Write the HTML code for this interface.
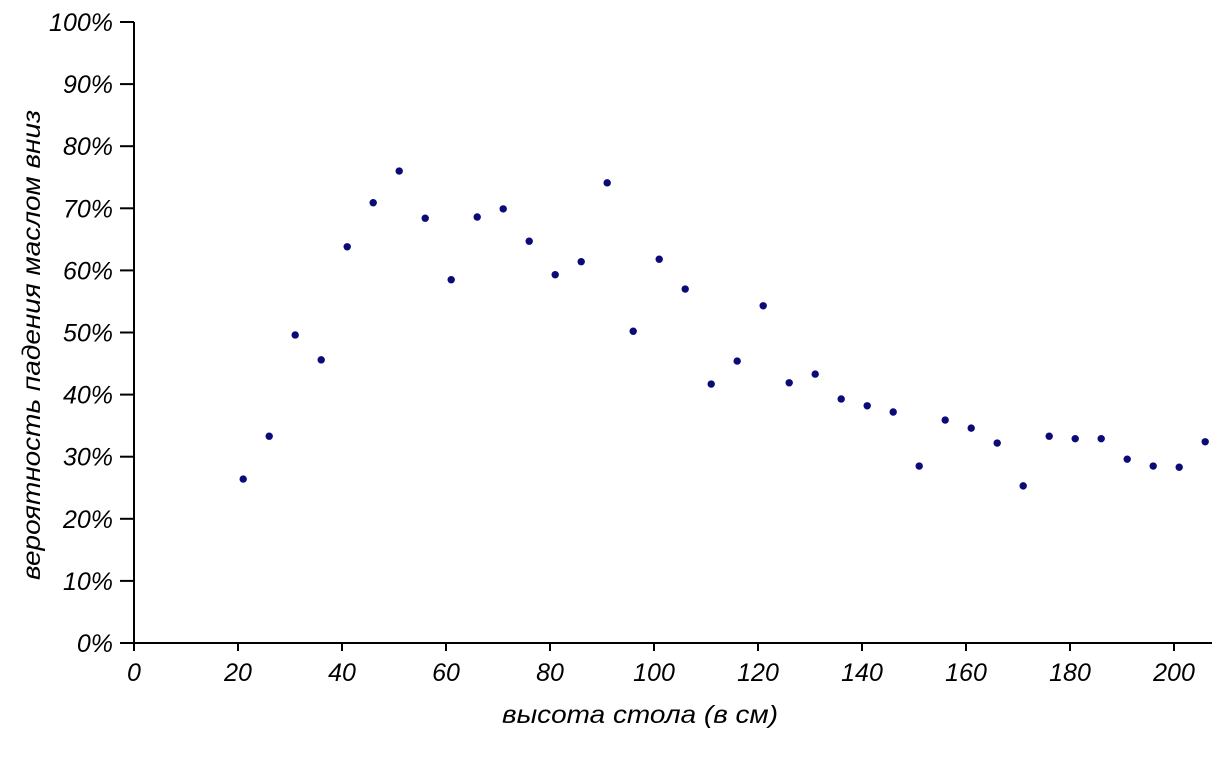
<!DOCTYPE html>
<html><head><meta charset="utf-8"><style>
body{margin:0;background:#fff}
text{font-family:"Liberation Sans",sans-serif;font-style:italic;font-size:25px;fill:#000}
</style></head><body>
<svg id="chart" width="1229" height="760" xmlns="http://www.w3.org/2000/svg"></svg>
<script>
const heights=[21,26,31,36,41,46,51,56,61,66,71,76,81,86,91,96,101,106,111,116,121,126,131,136,141,146,151,156,161,166,171,176,181,186,191,196,201,206];
const probs=[26.4,33.3,49.6,45.6,63.8,70.9,76.0,68.4,58.5,68.6,69.9,64.7,59.3,61.4,74.1,50.2,61.8,57.0,41.7,45.4,54.3,41.9,43.3,39.3,38.2,37.2,28.5,35.9,34.6,32.2,25.3,33.3,32.9,32.9,29.6,28.5,28.3,32.4];
const xTicks=[0,20,40,60,80,100,120,140,160,180,200];
const yTicks=[0,10,20,30,40,50,60,70,80,90,100];
const NS="http://www.w3.org/2000/svg";
const svg=document.getElementById('chart');
const X0=134,Y0=643;
const xs=v=>X0+v*5.2;
const ys=v=>Y0-v*6.21;
function mk(t,a,p){const e=document.createElementNS(NS,t);for(const k in a)e.setAttribute(k,a[k]);(p||svg).appendChild(e);return e;}
const ax=mk('g',{});


mk('line',{x1:X0,y1:ys(100),x2:X0,y2:Y0,stroke:'#000','stroke-width':2},ax);
mk('line',{x1:X0-1,y1:Y0,x2:1212,y2:Y0,stroke:'#000','stroke-width':2},ax);
yTicks.forEach(v=>{
  mk('line',{x1:X0-14,y1:ys(v),x2:X0,y2:ys(v),stroke:'#000','stroke-width':2},ax);
  const t=mk('text',{x:X0-21,y:ys(v)+9,'text-anchor':'end'},ax);t.textContent=v+'%';
  
  
});
xTicks.forEach(v=>{
  mk('line',{x1:xs(v),y1:Y0,x2:xs(v),y2:Y0+8,stroke:'#000','stroke-width':2},ax);
  const t=mk('text',{x:xs(v),y:Y0+38,'text-anchor':'middle'},ax);t.textContent=v;
  
  
});
const xt=mk('text',{x:502,y:723,textLength:276,lengthAdjust:'spacingAndGlyphs'});xt.textContent='высота стола (в см)';


const yt=mk('text',{x:0,y:0,textLength:470,lengthAdjust:'spacingAndGlyphs',transform:'translate(40,580) rotate(-90)'});yt.textContent='вероятность падения маслом вниз';


heights.forEach((h,i)=>{
  const c=mk('circle',{cx:xs(h),cy:ys(probs[i]),r:3.7,fill:'#0a0a78'});
  
  
});
</script>
</body></html>
